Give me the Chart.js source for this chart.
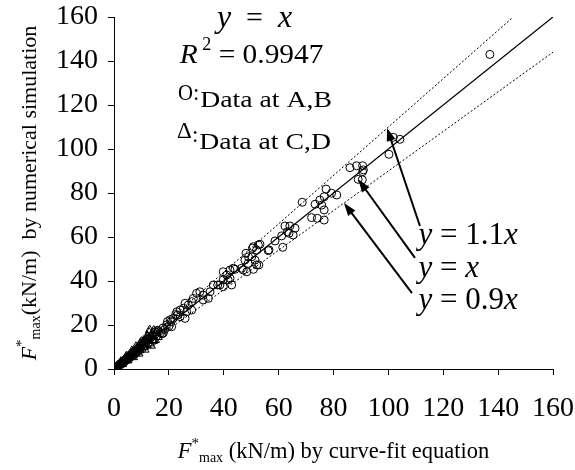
<!DOCTYPE html>
<html>
<head>
<meta charset="utf-8">
<script src="https://cdn.jsdelivr.net/npm/chart.js@4.4.1/dist/chart.umd.min.js"></script>
<style>
  body { margin: 0; background: #fff; }
  #wrap { width: 575px; height: 470px; }
</style>
</head>
<body>
<div id="wrap"><canvas id="myChart" width="575" height="470"></canvas></div>
<script>
// Data at A,B (circles): curve-fit value vs simulated value
const circleX = [1.0, 1.5, 2.2, 2.8, 3.5, 4.1, 4.8, 5.5, 6.0, 6.8, 7.5, 8.1, 8.8, 9.5, 10.2, 11.0, 11.8, 12.5, 13.2, 14.0,
  14.8, 15.5, 16.3, 17.0, 17.8, 18.5, 19.2, 20.0, 20.8, 21.6, 22.9, 23.2, 24.1, 24.1, 25.3, 25.9, 25.9, 26.5, 27.1, 28.3,
  28.3, 28.9, 30.1, 31.3, 32.5, 32.5, 34.4, 35.0, 36.2, 37.8, 38.6, 39.8, 39.8, 39.8, 41.1, 41.6, 42.3, 42.3, 42.9, 43.5,
  44.1, 46.5, 47.1, 47.7, 48.1, 48.4, 48.9, 49.0, 50.2, 50.5, 50.8, 50.8, 51.4, 52.0, 52.0, 52.6, 52.8, 53.2, 56.2, 56.5,
  58.7, 61.1, 61.5, 62.3, 63.2, 63.8, 64.1, 65.3, 66.0, 68.6, 72.0, 73.3, 74.1, 75.0, 75.7, 76.6, 76.6, 76.6, 77.3, 79.3,
  81.2, 86.0, 88.4, 90.6, 90.9, 90.6, 89.0, 90.5, 100.2, 101.8, 104.2, 137.0,
  12.0, 14.5, 16.0, 18.0, 19.5, 21.0, 22.5, 15.0, 17.5, 20.5];
const circleY = [1.1, 1.4, 2.3, 2.6, 3.7, 3.9, 5.0, 5.3, 6.4, 6.5, 7.9, 7.7, 9.2, 9.1, 10.8, 10.5, 12.4, 12.0, 13.9, 13.6,
  15.6, 15.0, 17.0, 16.5, 18.6, 18.0, 20.1, 19.4, 21.5, 23.0, 26.0, 24.5, 26.8, 23.8, 27.6, 29.9, 23.0, 26.0, 29.1, 30.6,
  26.8, 32.1, 34.4, 35.1, 33.6, 31.4, 32.1, 35.1, 38.2, 38.2, 38.2, 37.4, 44.2, 40.5, 42.7, 40.5, 41.2, 45.0, 38.2, 45.8,
  45.3, 45.8, 45.0, 49.5, 52.6, 44.2, 48.0, 51.0, 51.0, 54.9, 45.3, 55.6, 49.5, 47.3, 54.1, 56.4, 47.3, 56.7, 53.8, 54.1,
  58.2, 60.5, 55.3, 65.0, 62.4, 61.7, 65.0, 60.9, 64.0, 75.8, 68.8, 74.9, 68.5, 76.8, 74.5, 78.3, 72.3, 67.7, 81.8, 79.9,
  79.1, 91.5, 92.4, 92.4, 90.5, 89.7, 86.2, 86.0, 97.6, 105.3, 104.4, 143.0,
  13.4, 13.0, 17.6, 16.4, 21.6, 19.2, 24.8, 16.9, 16.0, 22.4];

// Data at C,D (triangles)
const triX = [0.3, 0.5, 0.7, 0.9, 1.1, 1.3, 1.6, 1.8, 2.0, 2.3, 2.6, 2.9, 3.2, 3.4, 3.7, 4.0, 4.3, 4.6, 4.9, 5.2,
  5.5, 5.8, 6.1, 6.4, 6.8, 7.1, 7.5, 7.8, 8.2, 8.5, 8.9, 9.3, 9.7, 10.1, 10.6, 11.0, 11.5, 12.0, 12.5, 13.0,
  13.0, 13.6, 14.3, 15.0, 15.5, 16.0,
  2.5, 3.0, 4.5, 5.0, 6.5, 7.0, 8.0, 9.0, 10.0, 11.2, 12.2, 13.5, 14.5, 12.8, 14.0, 11.8, 10.8, 9.5];
const triY = [0.3, 0.6, 0.6, 1.0, 1.2, 1.1, 1.8, 1.6, 2.3, 2.1, 2.9, 2.6, 3.5, 3.1, 4.1, 3.7, 4.8, 4.2, 5.5, 4.8,
  6.1, 5.3, 6.8, 5.9, 7.5, 6.5, 8.3, 7.1, 9.2, 7.8, 9.8, 8.5, 10.8, 9.3, 11.8, 10.1, 12.9, 10.9, 14.0, 11.6,
  17.7, 15.2, 12.8, 13.2, 17.0, 14.5,
  3.3, 2.2, 5.8, 3.9, 8.2, 5.4, 10.1, 7.0, 12.4, 8.8, 15.0, 10.6, 17.5, 16.6, 16.0, 13.9, 12.9, 11.6];

// reference lines y = x, y = 1.1x, y = 0.9x
const lineX = [0, 160];
const lineY = [0, 160];
const upperX = [0, 145.5];
const upperY = [0, 160];
const lowerX = [0, 160];
const lowerY = [0, 144];

const axisTicks = [0, 20, 40, 60, 80, 100, 120, 140, 160];

const serif = '"Liberation Serif", "DejaVu Serif", serif';

function pairs(xs, ys) {
    return xs.map((x, i) => ({ x: x, y: ys[i] }));
}

// draws a row of text pieces with their own font, vertical offset and horizontal stretch
function drawRuns(ctx, runs, x, y) {
    let cx = x;
    runs.forEach(r => {
        const k = r.sx || 1;
        ctx.font = r.font;
        ctx.save();
        ctx.translate(cx, y + (r.dy || 0));
        ctx.scale(k, 1);
        ctx.fillText(r.t, 0, 0);
        ctx.restore();
        cx += ctx.measureText(r.t).width * k;
    });
    return cx - x;
}

function runsWidth(ctx, runs) {
    let w = 0;
    runs.forEach(r => { ctx.font = r.font; w += ctx.measureText(r.t).width * (r.sx || 1); });
    return w;
}

function arrow(ctx, x1, y1, x2, y2) {
    const a = Math.atan2(y2 - y1, x2 - x1);
    const len = 13, half = 4.5;
    ctx.beginPath();
    ctx.moveTo(x1, y1);
    ctx.lineTo(x2 - Math.cos(a) * len * 0.8, y2 - Math.sin(a) * len * 0.8);
    ctx.lineWidth = 2;
    ctx.stroke();
    ctx.beginPath();
    ctx.moveTo(x2, y2);
    ctx.lineTo(x2 - Math.cos(a) * len - Math.sin(a) * half, y2 - Math.sin(a) * len + Math.cos(a) * half);
    ctx.lineTo(x2 - Math.cos(a) * len + Math.sin(a) * half, y2 - Math.sin(a) * len - Math.cos(a) * half);
    ctx.closePath();
    ctx.fill();
}

const annotations = {
    id: 'annotations',
    afterDatasetsDraw(chart) {
        const ctx = chart.ctx;
        const sx = chart.scales.x, sy = chart.scales.y;
        const px = v => sx.getPixelForValue(v);
        const py = v => sy.getPixelForValue(v);
        const area = chart.chartArea;
        const it = s => 'italic ' + s + 'px ' + serif;
        const rg = s => s + 'px ' + serif;

        ctx.save();
        ctx.fillStyle = '#000';
        ctx.strokeStyle = '#000';
        ctx.textBaseline = 'alphabetic';
        ctx.textAlign = 'left';

        // equation block
        drawRuns(ctx, [{ t: 'y', font: it(32) }, { t: '  =  ', font: rg(30) }, { t: 'x', font: it(32) }], px(37.5), py(155.5));
        drawRuns(ctx, [{ t: 'R', font: it(28), sx: 1.05 }, { t: ' 2', font: rg(18), dy: -13 }, { t: ' = 0.9947', font: rg(28), sx: 1.05 }], px(24), py(139));
        drawRuns(ctx, [{ t: 'O', font: rg(23), dy: -7, sx: 0.9 }, { t: ':', font: rg(23), dy: -7 }, { t: ' ', font: rg(4) }, { t: 'Data at A,B', font: rg(23.5), sx: 1.18 }], px(23.3), py(119));
        drawRuns(ctx, [{ t: '\u0394', font: rg(23), dy: -11 }, { t: ':', font: rg(23), dy: -7 }, { t: ' ', font: rg(4) }, { t: 'Data at C,D', font: rg(23.5), sx: 1.18 }], px(23), py(100));

        // arrows to the lines
        arrow(ctx, px(111.5), py(65), px(99.5), py(109.5));
        arrow(ctx, px(109.7), py(50.5), px(89), py(86.2));
        arrow(ctx, px(108.6), py(34.5), px(83.8), py(75.5));

        drawRuns(ctx, [{ t: 'y', font: it(31) }, { t: ' = 1.1', font: rg(31) }, { t: 'x', font: it(31) }], px(111), py(57));
        drawRuns(ctx, [{ t: 'y', font: it(31) }, { t: ' = ', font: rg(31) }, { t: 'x', font: it(31) }], px(111), py(42));
        drawRuns(ctx, [{ t: 'y', font: it(31) }, { t: ' = 0.9', font: rg(31) }, { t: 'x', font: it(31) }], px(111), py(27.5));

        // x axis title
        const xRuns = [{ t: 'F', font: it(22.5) }, { t: '*', font: rg(15), dy: -10 }, { t: 'max', font: rg(14), dy: 4 },
            { t: ' (kN/m) by curve-fit equation', font: rg(22.5) }];
        const xw = runsWidth(ctx, xRuns);
        drawRuns(ctx, xRuns, (area.left + area.right) / 2 - xw / 2, 458);

        // y axis title
        const yRuns = [{ t: 'F', font: it(22) }, { t: '*', font: rg(15), dy: -10 }, { t: 'max', font: rg(14), dy: 4 },
            { t: '(kN/m)  by numerical simulation', font: rg(22) }];
        const yw = runsWidth(ctx, yRuns);
        ctx.translate(36, (area.top + area.bottom) / 2);
        ctx.rotate(-Math.PI / 2);
        drawRuns(ctx, yRuns, -yw / 2, 0);
        ctx.restore();
    }
};

function renderChart() {
    const ctx = document.getElementById('myChart');

    const axis = (isY) => ({
        type: 'linear',
        min: 0,
        max: 160,
        afterBuildTicks: scale => { scale.ticks = axisTicks.map(v => ({ value: v })); },
        afterFit: scale => {
            if (isY) {
                scale.width = 114;
                scale.paddingTop = 0;
                scale.paddingBottom = 0;
            } else {
                scale.height = 101;
                scale.paddingLeft = 0;
                scale.paddingRight = 0;
            }
        },
        ticks: {
            color: '#000',
            font: { family: serif, size: 28 },
            maxRotation: 0,
            padding: isY ? 10 : 17
        },
        grid: {
            drawOnChartArea: false,
            drawTicks: true,
            tickLength: 6,
            color: '#000',
            lineWidth: 1
        },
        border: { color: '#000', width: 1 }
    });

    new Chart(ctx, {
        type: 'scatter',
        data: {
            datasets: [{
                label: 'y = x',
                type: 'line',
                data: pairs(lineX, lineY),
                borderColor: '#000',
                borderWidth: 1.3,
                pointRadius: 0,
                order: 5
            },
            {
                label: 'y = 1.1x',
                type: 'line',
                data: pairs(upperX, upperY),
                borderColor: '#000',
                borderWidth: 1,
                borderDash: [2, 2],
                pointRadius: 0,
                order: 5
            },
            {
                label: 'y = 0.9x',
                type: 'line',
                data: pairs(lowerX, lowerY),
                borderColor: '#000',
                borderWidth: 1,
                borderDash: [2, 2],
                pointRadius: 0,
                order: 5
            },
            {
                label: 'Data at A,B',
                data: pairs(circleX, circleY),
                pointStyle: 'circle',
                pointRadius: 4,
                borderColor: '#000',
                backgroundColor: 'rgba(0,0,0,0)',
                borderWidth: 1,
                order: 2
            },
            {
                label: 'Data at C,D',
                data: pairs(triX, triY),
                pointStyle: 'triangle',
                pointRadius: 5,
                borderColor: '#000',
                backgroundColor: 'rgba(0,0,0,0)',
                borderWidth: 1,
                order: 1
            }]
        },
        options: {
            responsive: false,
            animation: false,
            layout: { padding: { top: 17, right: 22, left: 0, bottom: 0 } },
            plugins: {
                legend: { display: false },
                tooltip: { enabled: false }
            },
            scales: {
                x: axis(false),
                y: axis(true)
            }
        },
        plugins: [annotations]
    });
}

renderChart();
</script>
</body>
</html>
